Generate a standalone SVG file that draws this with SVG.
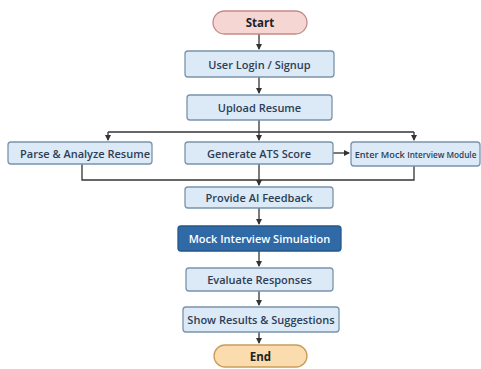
<svg xmlns="http://www.w3.org/2000/svg" width="481" height="369" viewBox="0 0 481 369">
<defs>
<marker id="ah" markerWidth="6" markerHeight="6" refX="5" refY="3" orient="auto" markerUnits="userSpaceOnUse">
<path d="M0,0 L6,3 L0,6 Z" fill="#333"/>
</marker>
<style>
.box{fill:#dce9f6;stroke:#7a93ad;stroke-width:1.3}
.dark{fill:#2f6aa6;stroke:#24578c;stroke-width:1.3}
.start{fill:#f6d6d3;stroke:#c48a86;stroke-width:1.3}
.end{fill:#fbdcae;stroke:#c99c5c;stroke-width:1.3}
.t{font-family:"Open Sans","Noto Sans",sans-serif;font-weight:600;font-size:11px;fill:#2c3e55;text-anchor:middle;dominant-baseline:central}
.tw{fill:#ffffff}
.tb{font-weight:700;fill:#222;font-size:11.5px}
.ts{font-size:9.2px}
.c{fill:none;stroke:#333;stroke-width:1.3}
</style>
</defs>
<rect width="481" height="369" fill="#ffffff"/>
<g id="connectors">
<path class="c" d="M259,34 V49" marker-end="url(#ah)"/>
<path class="c" d="M259,77 V93" marker-end="url(#ah)"/>
<path class="c" d="M259,120 V132"/>
<path class="c" d="M108,132 H414"/>
<path class="c" d="M108,132 V140" marker-end="url(#ah)"/>
<path class="c" d="M259,132 V140" marker-end="url(#ah)"/>
<path class="c" d="M414,132 V140" marker-end="url(#ah)"/>
<path class="c" d="M333,153 H349" marker-end="url(#ah)"/>
<path class="c" d="M82,164 V180 H414 V166"/>
<path class="c" d="M259,164 V185" marker-end="url(#ah)"/>
<path class="c" d="M259,208 V224" marker-end="url(#ah)"/>
<path class="c" d="M259,251 V266" marker-end="url(#ah)"/>
<path class="c" d="M259,291 V305" marker-end="url(#ah)"/>
<path class="c" d="M259,332 V343" marker-end="url(#ah)"/>
</g>
<g id="start"><rect class="start" x="213" y="11" width="94" height="23" rx="11.5"/><text class="t tb" x="260" y="22.5">Start</text></g>
<g id="login"><rect class="box" x="185" y="51" width="149" height="26" rx="3"/><text class="t" x="259.5" y="64">User Login / Signup</text></g>
<g id="upload"><rect class="box" x="187" y="95" width="145" height="25" rx="3"/><text class="t" x="259.5" y="107.5">Upload Resume</text></g>
<g id="parse"><rect class="box" x="8" y="142" width="144" height="22" rx="3"/><text class="t" x="85" y="153">Parse &amp; Analyze Resume</text></g>
<g id="ats"><rect class="box" x="185" y="142" width="148" height="22" rx="3"/><text class="t" x="259" y="153">Generate ATS Score</text></g>
<g id="mockmodule"><rect class="box" x="351" y="142" width="129" height="24" rx="3"/><text class="t ts" x="415.5" y="154">Enter Mock <tspan style="font-size:8.2px">Interview Module</tspan></text></g>
<g id="feedback"><rect class="box" x="185" y="187" width="148" height="21" rx="3"/><text class="t" x="259" y="197.5">Provide AI Feedback</text></g>
<g id="simulation"><rect class="dark" x="178" y="226" width="163" height="25" rx="3"/><text class="t tw" x="259.5" y="238.5">Mock Interview Simulation</text></g>
<g id="evaluate"><rect class="box" x="186" y="268" width="147" height="23" rx="3"/><text class="t" x="259.5" y="279.5">Evaluate Responses</text></g>
<g id="results"><rect class="box" x="183" y="307" width="156" height="25" rx="3"/><text class="t" x="261" y="319.5">Show Results &amp; Suggestions</text></g>
<g id="end"><rect class="end" x="214" y="345" width="93" height="22" rx="11"/><text class="t tb" x="260.5" y="356">End</text></g>
</svg>
